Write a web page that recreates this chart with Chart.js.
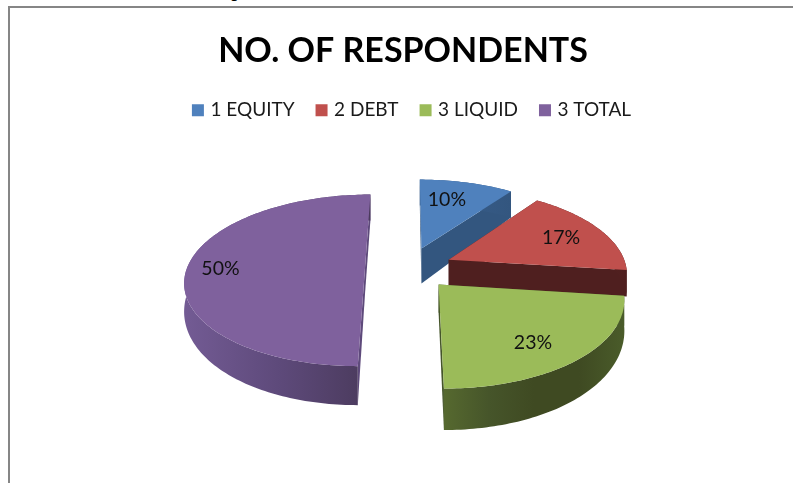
<!DOCTYPE html>
<html>
<head>
<meta charset="utf-8">
<script src="https://cdn.jsdelivr.net/npm/chart.js@4"></script>
<style>
html,body{margin:0;padding:0;background:#fff;overflow:hidden}
#page{position:relative;width:793px;height:483px;overflow:hidden}
#caption{position:absolute;left:2px;top:-20px;white-space:nowrap;font:bold 19px "Liberation Serif",serif;color:#000;word-spacing:11px}
#frame{position:absolute;left:8px;top:6px;right:-10px;bottom:-10px;border:2px solid #868686}
canvas{position:absolute;left:0;top:0}
</style>
</head>
<body>
<div id="page">
<div id="caption">5.3. Chart as shows respondents interest in assets class invest in Mutual funds</div>
<div id="frame"></div>
<canvas id="c" width="793" height="483"></canvas>
</div>
<script>
const categories = ['1 EQUITY', '2 DEBT', '3 LIQUID', '3 TOTAL'];
const respondents = [10, 17, 23, 50];
const explode = [45, 45, 45, 43];
const topColors = ['#4f81bd', '#c0504d', '#9bbb59', '#7f619d'];
const radialWallColors = ['#33567f', '#4f1f1f', '#45552a', '#5e4a7b'];
const outerWallStops = [
  ['#3a608f', '#33567f'],
  ['#5a2422', '#4f1f1f'],
  ['#56692f', '#46552a', '#3f4a22', '#3f4a22', '#4a5c2a'],
  ['#735b94', '#5e4a7b', '#4a3a5c']
];
const labelRadius = [0.70, 0.73, 0.75, 0.81];
const labelTurnDeg = [-4, 1, 4, -1];
const apexExtraDrop = [9, 0, 0, 0];

// Projection of the pie plane onto the screen (tilted, with perspective)
const view = {cx: 408, cy: 268, fx: 178, fy: 84, k: 0.144, drop: 26, dropNear: 13};

function project(X, Y) {
  const w = 1 - view.k * Y;
  return {x: view.cx + view.fx * X / w, y: view.cy + view.fy * Y / w, d: view.drop + view.dropNear * Math.max(Y, 0)};
}
function geometry(arc) {
  const mid = (arc.startAngle + arc.endAngle) / 2;
  const dist = arc.options.offset / view.fx;
  const ox = dist * Math.cos(mid), oy = dist * Math.sin(mid);
  return {mid, ox, oy, at: (a, r) => project(ox + r * Math.cos(a), oy + r * Math.sin(a))};
}
function rimPoints(arc, g) {
  const n = Math.max(8, Math.ceil((arc.endAngle - arc.startAngle) / 0.02));
  const pts = [];
  for (let i = 0; i <= n; i++) pts.push(g.at(arc.startAngle + (arc.endAngle - arc.startAngle) * i / n, 1));
  return pts;
}
function drawSlice(ctx, arc, i) {
  const g = geometry(arc);
  const apex = g.at(0, 0);
  const apexDrop = apex.d + apexExtraDrop[i];
  const rim = rimPoints(arc, g);
  const wall = (p) => {
    ctx.beginPath();
    ctx.moveTo(apex.x, apex.y);
    ctx.lineTo(p.x, p.y);
    ctx.lineTo(p.x, p.y + p.d);
    ctx.lineTo(apex.x, apex.y + apexDrop);
    ctx.closePath();
    ctx.fillStyle = radialWallColors[i];
    ctx.fill();
  };
  wall(rim[0]);
  wall(rim[rim.length - 1]);
  // outer curved wall
  const xs = rim.map(p => p.x);
  const grad = ctx.createLinearGradient(Math.min(...xs), 0, Math.max(...xs), 0);
  const stops = outerWallStops[i];
  stops.forEach((c, s) => grad.addColorStop(s / (stops.length - 1), c));
  ctx.beginPath();
  rim.forEach((p, j) => j ? ctx.lineTo(p.x, p.y) : ctx.moveTo(p.x, p.y));
  for (let j = rim.length - 1; j >= 0; j--) ctx.lineTo(rim[j].x, rim[j].y + rim[j].d);
  ctx.closePath();
  ctx.fillStyle = grad;
  ctx.fill();
  // top face
  ctx.beginPath();
  ctx.moveTo(apex.x, apex.y);
  rim.forEach(p => ctx.lineTo(p.x, p.y));
  ctx.closePath();
  ctx.fillStyle = arc.options.backgroundColor;
  ctx.fill();
}
const pie3d = {
  id: 'pie3d',
  afterLayout(chart) {
    chart.titleBlock.left += 6.5; chart.titleBlock.right += 6.5;
    chart.legend.left += 16.5; chart.legend.right += 16.5;
  },
  beforeDatasetDraw(chart, args) {
    const ctx = chart.ctx;
    const arcs = args.meta.data;
    const order = arcs.map((a, i) => i).sort((p, q) => geometry(arcs[p]).oy - geometry(arcs[q]).oy);
    ctx.save();
    order.forEach(i => drawSlice(ctx, arcs[i], i));
    ctx.restore();
    return false;
  },
  afterDatasetsDraw(chart) {
    const ctx = chart.ctx;
    const arcs = chart.getDatasetMeta(0).data;
    const total = respondents.reduce((a, b) => a + b, 0);
    ctx.save();
    ctx.font = '19.5px Lato';
    ctx.fillStyle = '#111';
    ctx.textAlign = 'center';
    ctx.textBaseline = 'middle';
    arcs.forEach((arc, i) => {
      const g = geometry(arc);
      const p = g.at(g.mid + labelTurnDeg[i] * Math.PI / 180, labelRadius[i]);
      ctx.fillText(Math.round(respondents[i] / total * 100) + '%', p.x, p.y);
    });
    ctx.restore();
  }
};
new Chart(document.getElementById('c'), {
  type: 'pie',
  data: {
    labels: categories,
    datasets: [{data: respondents, backgroundColor: topColors, offset: explode, borderWidth: 0}]
  },
  plugins: [pie3d],
  options: {
    responsive: false,
    animation: false,
    layout: {padding: {top: 31}},
    plugins: {
      tooltip: {enabled: false},
      title: {
        display: true,
        text: 'NO. OF RESPONDENTS',
        color: '#000',
        font: {family: 'Lato', size: 34, weight: 'bold'},
        padding: {top: 0, bottom: 5}
      },
      legend: {
        display: true,
        position: 'top',
        labels: {
          color: '#1a1a1a',
          font: {family: 'Lato', size: 19},
          boxWidth: 6,
          boxHeight: 6,
          padding: 24,
          generateLabels(chart) {
            return Chart.overrides.pie.plugins.legend.labels.generateLabels(chart).map((item, i) => ({
              ...item, strokeStyle: topColors[i], lineWidth: 6
            }));
          }
        }
      }
    }
  }
});
</script>
</body>
</html>
